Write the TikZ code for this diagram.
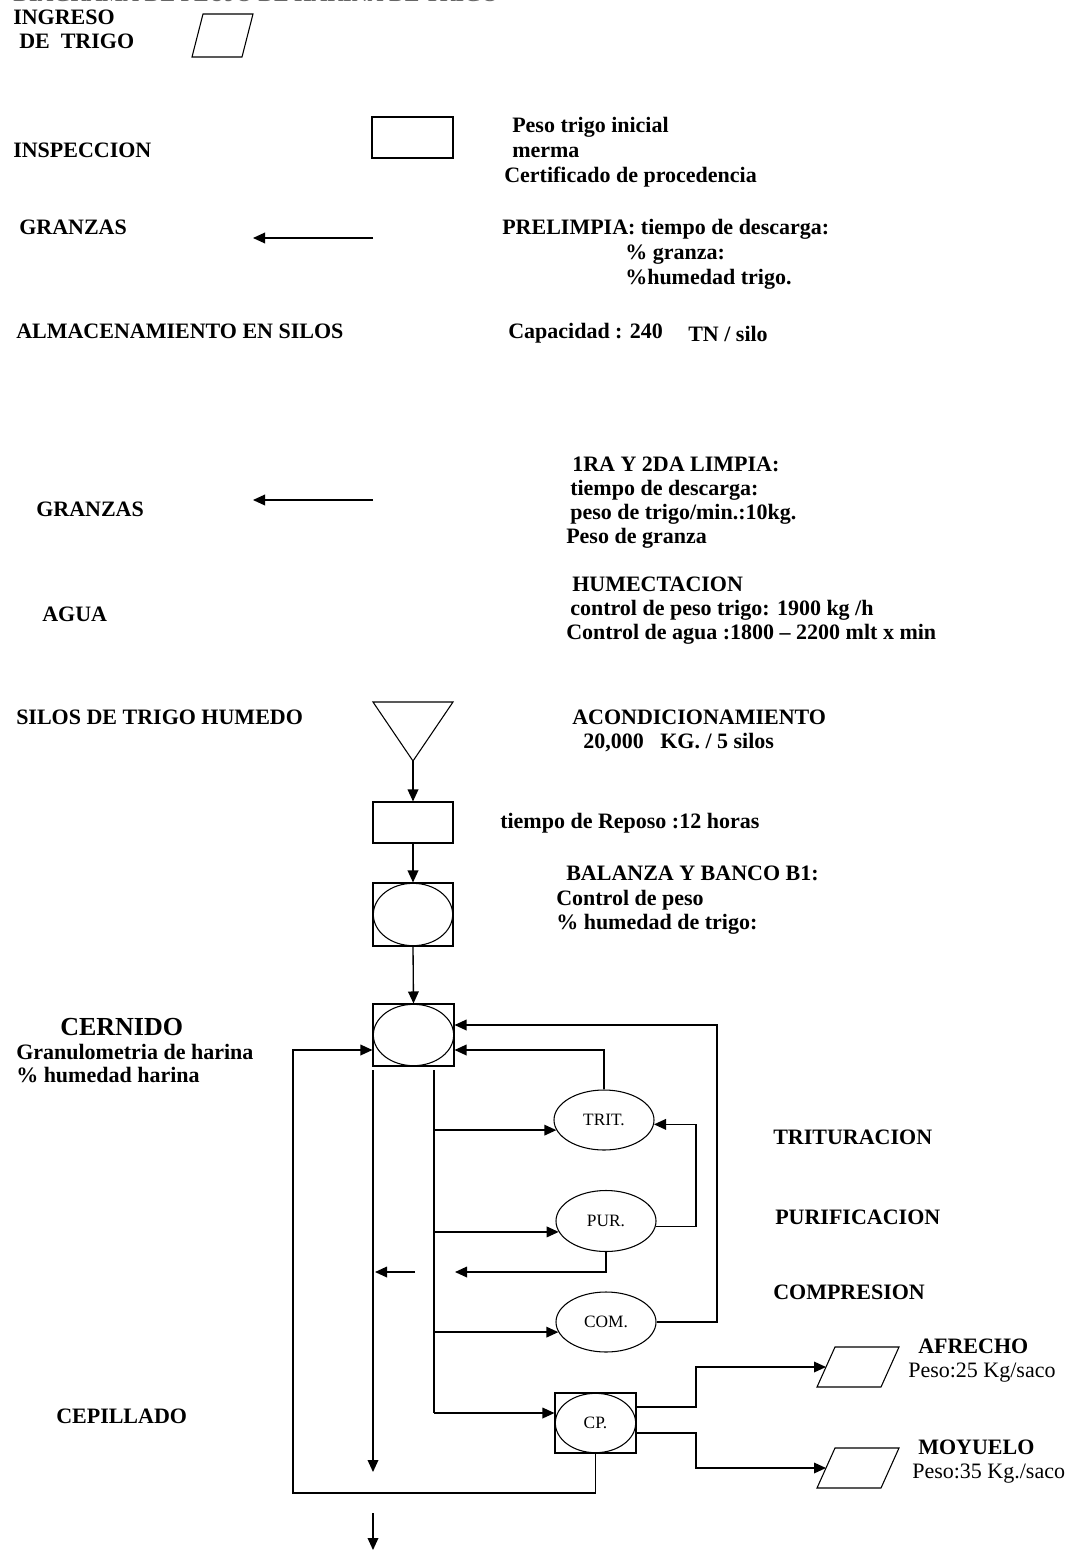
\documentclass[tikz,border=0pt]{standalone}
\usepackage{fontspec}
\setmainfont{Liberation Serif}
\usetikzlibrary{arrows.meta,calc,shapes.geometric}
\begin{document}
\begin{tikzpicture}[x=0.75pt,y=-0.75pt,
  txt/.style={anchor=base west,inner sep=0pt,font=\fontsize{16.5}{19}\selectfont\bfseries},
  txtr/.style={anchor=base west,inner sep=0pt,font=\fontsize{16.5}{19}\selectfont},
  txtbig/.style={anchor=base west,inner sep=0pt,font=\fontsize{19.5}{22}\selectfont\bfseries},
  elab/.style={font=\fontsize{13}{15}\selectfont},
  shp/.style={draw,line width=0.8pt},
  rbox/.style={shp,rectangle,inner sep=0pt},
  ell/.style={shp,ellipse,inner sep=0pt},
  conn/.style={line width=1pt},
  arr/.style={conn,-{Triangle[length=9pt,width=8pt]}}]
\useasboundingbox (0,0) rectangle (1070,1553);

% title (cut off at the top edge, as in the reference)
\node[txt,text=black!60] (title) at (13,1.5) {DIAGRAMA DE FLUJO DE HARINA DE TRIGO};

% ---------- texts ----------
\node[txt] (ing1) at (13,24) {INGRESO};
\node[txt] (ing2) at (19,48) {DE\ \ TRIGO};
\node[txt] (insp) at (13,157) {INSPECCION};
\node[txt] (pti) at (512,132) {Peso trigo inicial};
\node[txt] (mer) at (512,157) {merma};
\node[txt] (cer) at (504,182) {Certificado de procedencia};
\node[txt] (gr1) at (19,234) {GRANZAS};
\node[txt] (pre1) at (502,234) {PRELIMPIA: tiempo de descarga:};
\node[txt] (pre2) at (625,259) {\% granza:};
\node[txt] (pre3) at (625,284) {\%humedad trigo.};
\node[txt] (alm) at (16,338) {ALMACENAMIENTO EN SILOS};
\node[txt] (cap) at (508,338) {Capacidad : 240};
\node[txt] (tns) at (688,341) {TN / silo};
\node[txt] (lim1) at (572,471) {1RA Y 2DA LIMPIA:};
\node[txt] (lim2) at (570,495) {tiempo de descarga:};
\node[txt] (lim3) at (570,519) {peso de trigo/min.:10kg.};
\node[txt] (lim4) at (566,543) {Peso de granza};
\node[txt] (gr2) at (36,516) {GRANZAS};
\node[txt] (hum1) at (572,591) {HUMECTACION};
\node[txt] (hum2) at (570,615) {control de peso trigo: 1900 kg /h};
\node[txt] (hum3) at (566,639) {Control de agua :1800 – 2200 mlt x min};
\node[txt] (agua) at (42,621) {AGUA};
\node[txt] (sil) at (16,724) {SILOS DE TRIGO HUMEDO};
\node[txt] (aco1) at (572,724) {ACONDICIONAMIENTO};
\node[txt] (aco2) at (583,748) {20,000\ \ \ KG. / 5 silos};
\node[txt] (rep) at (500,828) {tiempo de Reposo :12 horas};
\node[txt] (bal1) at (566,880) {BALANZA Y BANCO B1:};
\node[txt] (bal2) at (556,905) {Control de peso};
\node[txt] (bal3) at (556,929) {\% humedad de trigo:};
\node[txtbig] (cern1) at (60,1035) {CERNIDO};
\node[txt] (cern2) at (16,1059) {Granulometria de harina};
\node[txt] (cern3) at (16,1082) {\% humedad harina};
\node[txt] (trt) at (773,1144) {TRITURACION};
\node[txt] (prf) at (775,1224) {PURIFICACION};
\node[txt] (cmp) at (773,1299) {COMPRESION};
\node[txt] (cep) at (56,1423) {CEPILLADO};
\node[txt] (afr1) at (918,1353) {AFRECHO};
\node[txtr] (afr2) at (908,1377) {Peso:25 Kg/saco};
\node[txt] (moy1) at (918,1454) {MOYUELO};
\node[txtr] (moy2) at (912,1478) {Peso:35 Kg./saco};

% ---------- shapes ----------
\draw[shp] (203,14) -- (253,14) -- (242,57) -- (192,57) -- cycle;
\node[rbox,minimum width=60.75pt,minimum height=30.75pt] (inspb) at (412.5,137.5) {};
\draw[shp] (373,702) -- (453,702) -- (413,761) -- cycle;
\coordinate (trib) at (413,761);
\node[rbox,minimum width=60pt,minimum height=30.75pt] (repo) at (413,822.5) {};
\node[rbox,minimum width=60pt,minimum height=47.25pt] (bal) at (413,914.5) {};
\node[ell,minimum width=59.5pt,minimum height=46.75pt] (bale) at (bal) {};
\node[rbox,minimum width=60.75pt,minimum height=46.5pt] (cern) at (413.5,1035) {};
\node[ell,minimum width=60.25pt,minimum height=46pt] (cerne) at (cern) {};
\node[ell,elab,minimum width=75pt,minimum height=45pt] (trit) at (604,1120) {TRIT.};
\node[ell,elab,minimum width=75pt,minimum height=45.75pt] (pur) at (606,1221) {PUR.};
\node[ell,elab,minimum width=75pt,minimum height=45pt] (com) at (606,1322) {COM.};
\node[rbox,minimum width=60.75pt,minimum height=45pt] (cpb) at (595.5,1423) {};
\node[ell,elab,minimum width=60.25pt,minimum height=44.5pt] (cpe) at (cpb) {CP.};
\draw[shp] (835,1347) -- (899,1347) -- (881,1387) -- (817,1387) -- cycle;
\coordinate (afl) at (826,1367);
\draw[shp] (835,1448) -- (899,1448) -- (881,1488) -- (817,1488) -- cycle;
\coordinate (mol) at (826,1468);

% ---------- connectors ----------
\coordinate (g1a) at (373,238); \coordinate (g1b) at (253,238);
\draw[arr] (g1a) -- (g1b);
\coordinate (g2a) at (373,500); \coordinate (g2b) at (253,500);
\draw[arr] (g2a) -- (g2b);

\draw[arr] (trib) -- (repo.north);
\draw[arr] (repo.south) -- (bal.north);
\draw[arr] (bal.south) -- (cern.north);

\coordinate (lp1) at (293,1050);
\coordinate (lb) at (293,1493);
\draw[arr] (cpb.south) |- (lb) |- (cern.west |- lp1);
\draw[arr] (trit.north) |- (cern.east |- lp1);
\coordinate (r1) at (717,1025);
\draw[arr] (com.east) -| (r1) -- (cern.east |- r1);

\coordinate (d1) at (373,1070); \coordinate (d2) at (373,1472);
\draw[arr] (d1) -- (d2);

\coordinate (v1) at (434,1070); \coordinate (v2) at (434,1413);
\draw[conn] (v1) -- (v2);
\draw[arr] (v2) -- (cpb.west |- v2);
\draw[arr] (trit.192 -| v1) -- (trit.192);
\draw[arr] (pur.193 -| v1) -- (pur.193);
\draw[arr] (com.192 -| v1) -- (com.192);

\coordinate (jx2) at (696,0);
\draw[arr] (pur.354) -| (trit.355 -| jx2) -- (trit.355);

\coordinate (p3) at (455,1272);
\draw[arr] (pur.south) |- (p3);
\coordinate (s1) at (415,1272); \coordinate (s2) at (375,1272);
\draw[arr] (s1) -- (s2);

\coordinate (ya) at (0,1407); \coordinate (yb) at (0,1433);
\draw[arr] (cpb.east |- ya) -| (jx2 |- afl) -- (afl);
\draw[arr] (cpb.east |- yb) -| (jx2 |- mol) -- (mol);

\coordinate (f1) at (373,1513); \coordinate (f2) at (373,1550);
\draw[arr] (f1) -- (f2);
\end{tikzpicture}
\end{document}
